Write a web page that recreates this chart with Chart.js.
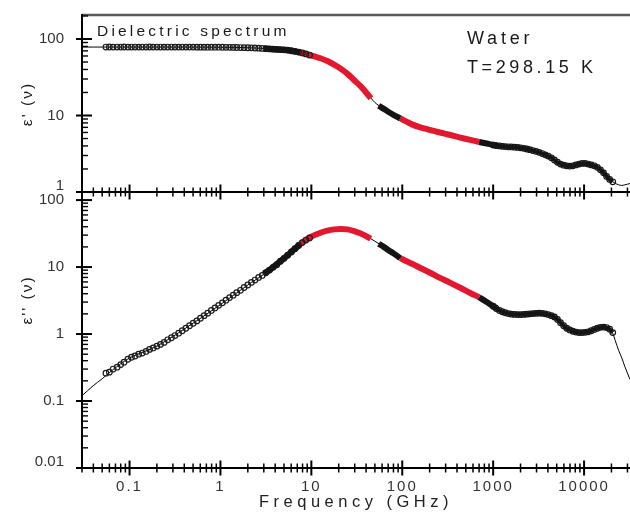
<!DOCTYPE html>
<html>
<head>
<meta charset="utf-8">
<script src="https://cdn.jsdelivr.net/npm/chart.js@4.4.1/dist/chart.umd.min.js"></script>
<style>
  html, body { margin:0; padding:0; background:#fff; }
  #wrap { position:relative; width:630px; height:512px; overflow:hidden; font-family:"Liberation Sans", Arial, sans-serif; color:#1a1a1a; }
  canvas { position:absolute; left:0; }
  #cBot { top:185px; }
  #cTop { top:0; }
  .txt { position:absolute; white-space:nowrap; line-height:1; }
  .ytitle { position:absolute; white-space:nowrap; line-height:1; font-size:15.5px; letter-spacing:2px; transform:translate(-50%,-50%) rotate(-90deg); }
</style>
</head>
<body>
<div id="wrap">
  <canvas id="cBot" width="630" height="327" style="width:630px;height:327px"></canvas>
  <canvas id="cTop" width="630" height="200" style="width:630px;height:200px"></canvas>
  <div class="txt" style="left:97px;top:23px;font-size:15.5px;letter-spacing:3.2px;">Dielectric spectrum</div>
  <div class="txt" style="left:467px;top:28.5px;font-size:18px;letter-spacing:3.8px;">Water</div>
  <div class="txt" style="left:467px;top:58px;font-size:18px;letter-spacing:3.6px;">T=298.15 K</div>
  <div class="ytitle" style="left:27px;top:104px;">ε' (ν)</div>
  <div class="ytitle" style="left:27px;top:300px;">ε'' (ν)</div>
</div>
<script>
// ---------- data (frequency in GHz) ----------
// low-frequency measurements (open circles)
const freqLow = [0.055,0.060,0.066,0.073,0.080,0.087,0.096,0.105,0.115,0.126,
                 0.138,0.152,0.166,0.182,0.200,0.219,0.240,0.263,0.289,0.316,
                 0.347,0.380,0.417,0.457,0.501,0.550,0.603,0.661,0.724,0.794,
                 0.871,0.955,1.05,1.15,1.26,1.38,1.51,1.66,1.82,2.00,
                 2.19,2.40,2.63,2.88,3.16,3.47,3.80,4.17,4.57,5.01,
                 5.50,6.03,6.61,7.24,7.94,8.71,9.55];
const realLow = [78.5,78.6,78.4,78.5,78.5,78.6,78.4,78.5,78.5,78.4,
                 78.5,78.5,78.6,78.4,78.5,78.5,78.4,78.5,78.5,78.4,
                 78.4,78.5,78.4,78.4,78.4,78.3,78.3,78.3,78.2,78.2,
                 78.1,78.1,78.0,77.9,77.8,77.7,77.5,77.3,77.1,76.9,
                 76.6,76.3,75.9,75.4,74.8,74.2,73.6,73.1,72.7,72.3,
                 71.4,70.2,69.0,67.5,65.8,63.8,61.7];
const imagLow = [0.26,0.27,0.30,0.32,0.35,0.38,0.42,0.45,0.47,0.50,
                 0.52,0.55,0.59,0.62,0.66,0.70,0.75,0.82,0.88,0.95,
                 1.03,1.12,1.22,1.33,1.45,1.57,1.72,1.88,2.05,2.25,
                 2.45,2.68,2.92,3.2,3.5,3.8,4.15,4.5,4.95,5.4,
                 5.9,6.4,7.0,7.5,8.2,9.0,9.9,10.8,12.2,13.5,
                 15,16.8,18.8,21,23.2,25.3,27.2];
// microwave band measurements (red band + dense black segments)
const freqMid = [3,3.5,4,5,6,7,7.5,8.5,10,12.6,15,18,21,25,30,35,40,45,50,55,
                 62,70,80,95,110,130,158,200,260,330,435,560,700,850,1000,1100];
const realMid = [75.2,74.2,73.3,72.3,70.3,68,66.8,64.3,61,56,51.5,46,41,35,28.5,24,20,16.8,14.8,13.4,
                 12.3,11.2,10.2,9.2,8.4,7.6,7.0,6.5,6.0,5.6,5.15,4.8,4.5,4.3,4.15,4.05];
const imagMid = [8.0,9.1,10.6,13.5,16.8,20,21.8,24.8,28.5,32.5,35,36.5,37,36.5,34.2,31.8,29,26.5,24.3,22.2,
                 20.2,18,16,13.6,12.3,11.1,9.7,8.3,6.9,5.9,4.9,4.1,3.55,3.0,2.6,2.45];
// THz measurements (circles)
const freqTHz = [1000,1080,1170,1260,1360,1470,1590,1720,1860,2010,
                 2170,2340,2530,2740,2960,3200,3460,3740,4040,4370,
                 4720,5100,5510,5960,6440,6960,7520,8130,8790,9500,
                 10270,11100,12000,12970,14020,15150,16380,17700,19130,20680];
const realTHz = [4.1,4.05,4.0,3.95,3.92,3.9,3.88,3.85,3.82,3.78,
                 3.72,3.65,3.57,3.48,3.4,3.3,3.18,3.06,2.95,2.8,
                 2.62,2.45,2.32,2.24,2.2,2.18,2.2,2.26,2.32,2.36,
                 2.36,2.32,2.26,2.2,2.1,1.95,1.78,1.6,1.46,1.36];
const imagTHz = [2.6,2.4,2.25,2.15,2.08,2.02,1.98,1.96,1.95,1.95,
                 1.96,1.98,2.0,2.02,2.04,2.05,2.04,2.0,1.95,1.88,
                 1.8,1.65,1.48,1.33,1.22,1.15,1.1,1.07,1.05,1.05,
                 1.06,1.08,1.12,1.17,1.22,1.26,1.27,1.25,1.18,1.05];
// model fit (thin line)
const freqFit = [0.03,0.04,0.05,0.065,0.1,0.2,0.5,1,2,3,5,7.5,10,15,21,30,40,50,62,80,
                 100,150,250,400,700,1000,1500,2000,3000,4000,5000,6000,7000,8000,9500,
                 11000,13000,15000,16400,17700,19100,20700,22000,24000,26000,28000,32000];
const realFit = [78.5,78.5,78.5,78.5,78.5,78.5,78.4,78,77,75.2,72.3,66.8,61,51.5,41,28.5,20,14.8,12.3,10.2,
                 8.9,7.1,6.0,5.25,4.5,4.15,3.89,3.78,3.4,2.97,2.5,2.23,2.18,2.25,2.36,
                 2.32,2.2,1.97,1.78,1.6,1.46,1.36,1.3,1.24,1.22,1.24,1.29];
const imagFit = [0.12,0.17,0.215,0.29,0.44,0.66,1.45,2.75,5.4,7.8,13.5,21.8,28.5,35,37,34.2,29,24.3,20.2,16,
                 13.2,10,7.1,5.2,3.55,2.6,2.02,1.95,2.04,1.96,1.68,1.3,1.14,1.07,1.05,
                 1.08,1.17,1.26,1.27,1.25,1.18,1.02,0.8,0.57,0.44,0.33,0.21];
const redRanges = [[7.5,45],[95,700]];
const denseRanges = [[3,7.5],[55,95],[700,1100]];
// ticks
const xTickValues = [0.1,1,10,100,1000,10000];
const xTickLabels = ['0.1','1','10','100','1000','10000'];
const yTopTickValues = [1,10,100];
const yTopTickLabels = ['1','10','100'];
const yBotTickValues = [0.01,0.1,1,10,100];
const yBotTickLabels = ['0.01','0.1','1','10','100'];

// ---------- helpers ----------
function toPoints(fx, fy){ return fx.map((f,i)=>({x:f, y:fy[i]})); }
function inRanges(fx, fy, ranges){
  const out = [];
  ranges.forEach(([a,b]) => {
    fx.forEach((f,i) => { if (f >= a && f <= b) out.push({x:f, y:fy[i]}); });
    out.push({x:b, y:null});
  });
  return out;
}
function makeDatasets(lowY, midY, thzY, fitY){
  return [
    {label:'dense', data:inRanges(freqMid, midY, denseRanges), borderColor:'#141414', backgroundColor:'rgba(0,0,0,0)',
     borderWidth:6, pointRadius:0, tension:0.3, spanGaps:false},
    {label:'low', data:toPoints(freqLow, lowY), showLine:false, pointRadius:2.8, pointBorderWidth:1.2,
     borderColor:'#1c1c1c', backgroundColor:'rgba(255,255,255,0)'},
    {label:'thz', data:toPoints(freqTHz, thzY), borderColor:'#151515', backgroundColor:'rgba(255,255,255,0)',
     borderWidth:4, tension:0.3, pointRadius:2.8, pointBorderWidth:1.2},
    {label:'red', data:inRanges(freqMid, midY, redRanges), borderColor:'#e3172d', backgroundColor:'rgba(0,0,0,0)',
     borderWidth:6, pointRadius:0, tension:0.3, spanGaps:false},
    {label:'fit', data:toPoints(freqFit, fitY), borderColor:'#000', backgroundColor:'rgba(0,0,0,0)',
     borderWidth:1, pointRadius:0, tension:0.3}
  ];
}
const tickFont = {family:"'Liberation Sans', Arial, sans-serif", size:15, lineHeight:0.8};
function noPad(s){ s.paddingTop = 0; s.paddingBottom = 0; s.paddingLeft = 0; s.paddingRight = 0; }
function yScale(min, max, values, labels){
  return {
    type:'logarithmic', position:'left', min, max,
    afterFit: s => { s.width = 82; noPad(s); },
    afterBuildTicks: s => { s.ticks = values.map(v => ({value:v})); },
    ticks: { autoSkip:false, padding:18, color:'#333', font:tickFont,
             callback: (v,i) => (i === 0 ? [labels[i], ''] : labels[i]) },
    grid: {display:false, drawTicks:false},
    border: {display:false}
  };
}
function line(ctx, x1, y1, x2, y2){ ctx.beginPath(); ctx.moveTo(x1,y1); ctx.lineTo(x2,y2); ctx.stroke(); }
function logMarks(scale){
  const res = [];
  const lo = Math.floor(Math.log10(scale.min)), hi = Math.ceil(Math.log10(scale.max));
  for (let n = lo; n <= hi; n++) for (let k = 1; k <= 9; k++) {
    const v = k * Math.pow(10, n);
    if (v < scale.min * 0.999 || v > scale.max * 1.001) continue;
    res.push({p: scale.getPixelForValue(v), major: k === 1});
  }
  return res;
}
const axesPlugin = {
  id:'axes',
  afterDraw(chart, args, opts){
    const {ctx, chartArea:{left,right,top,bottom}, scales:{x,y}} = chart;
    ctx.save();
    ctx.lineCap = 'butt';
    if (opts.topBorder){ ctx.strokeStyle = '#5a5a5a'; ctx.lineWidth = 2.5; line(ctx, left, top, right, top); }
    ctx.strokeStyle = '#000';
    ctx.lineWidth = 2;
    line(ctx, left - 1, bottom, right, bottom);
    line(ctx, left, top - (opts.topBorder ? 1 : 0), left, bottom + 1);
    logMarks(x).forEach(m => {
      ctx.lineWidth = m.major ? 2 : 1.5;
      const h = m.major ? 7.5 : 4.5;
      line(ctx, m.p, bottom - h, m.p, bottom + h);
    });
    logMarks(y).forEach(m => {
      ctx.lineWidth = m.major ? 2 : 1.4;
      if (m.major) line(ctx, left - 6, m.p, left + 10, m.p);
      else line(ctx, left, m.p, left + 6, m.p);
    });
    ctx.restore();
  }
};
const spacingPlugin = {
  id:'spacing',
  beforeDraw(chart){
    const s = chart.scales.x;
    if (!s || s.__spaced) return;
    s.__spaced = true;
    const dl = s.drawLabels.bind(s), dt = s.drawTitle.bind(s);
    s.drawLabels = function(a){ this.ctx.save(); this.ctx.letterSpacing = '2px'; dl(a); this.ctx.restore(); };
    s.drawTitle = function(){ this.ctx.save(); this.ctx.letterSpacing = '4.5px'; dt(); this.ctx.restore(); };
  }
};
const common = {
  responsive:false, animation:false, devicePixelRatio:1, events:[],
  plugins:{legend:{display:false}, tooltip:{enabled:false}}
};

// ---------- top panel: ε' ----------
new Chart(document.getElementById('cTop'), {
  type:'line',
  data:{datasets: makeDatasets(realLow, realMid, realTHz, realFit)},
  plugins:[axesPlugin],
  options:{
    ...common,
    layout:{autoPadding:false, padding:{top:15, bottom:8, left:0, right:0}},
    plugins:{...common.plugins, axes:{topBorder:true}},
    scales:{
      x:{type:'logarithmic', min:0.03, max:32000, display:false},
      y: yScale(1, 206, yTopTickValues, yTopTickLabels)
    }
  }
});

// ---------- bottom panel: ε'' ----------
new Chart(document.getElementById('cBot'), {
  type:'line',
  data:{datasets: makeDatasets(imagLow, imagMid, imagTHz, imagFit)},
  plugins:[axesPlugin, spacingPlugin],
  options:{
    ...common,
    layout:{autoPadding:false, padding:{top:7, bottom:0, left:0, right:0}},
    plugins:{...common.plugins, axes:{topBorder:false}},
    scales:{
      x:{type:'logarithmic', position:'bottom', min:0.03, max:32000,
         afterFit: s => { s.height = 44; noPad(s); },
         afterBuildTicks: s => { s.ticks = xTickValues.map(v => ({value:v})); },
         ticks:{autoSkip:false, maxRotation:0, padding:10, color:'#333',
                font:{family:"'Liberation Sans', Arial, sans-serif", size:15},
                callback:(v,i) => xTickLabels[i]},
         grid:{display:false, drawTicks:false},
         border:{display:false},
         title:{display:true, text:'Frequency (GHz)', color:'#222',
                font:{family:"'Liberation Sans', Arial, sans-serif", size:16.5},
                padding:{top:0, bottom:0}}},
      y: yScale(0.01, 132, yBotTickValues, yBotTickLabels)
    }
  }
});
</script>
</body>
</html>
